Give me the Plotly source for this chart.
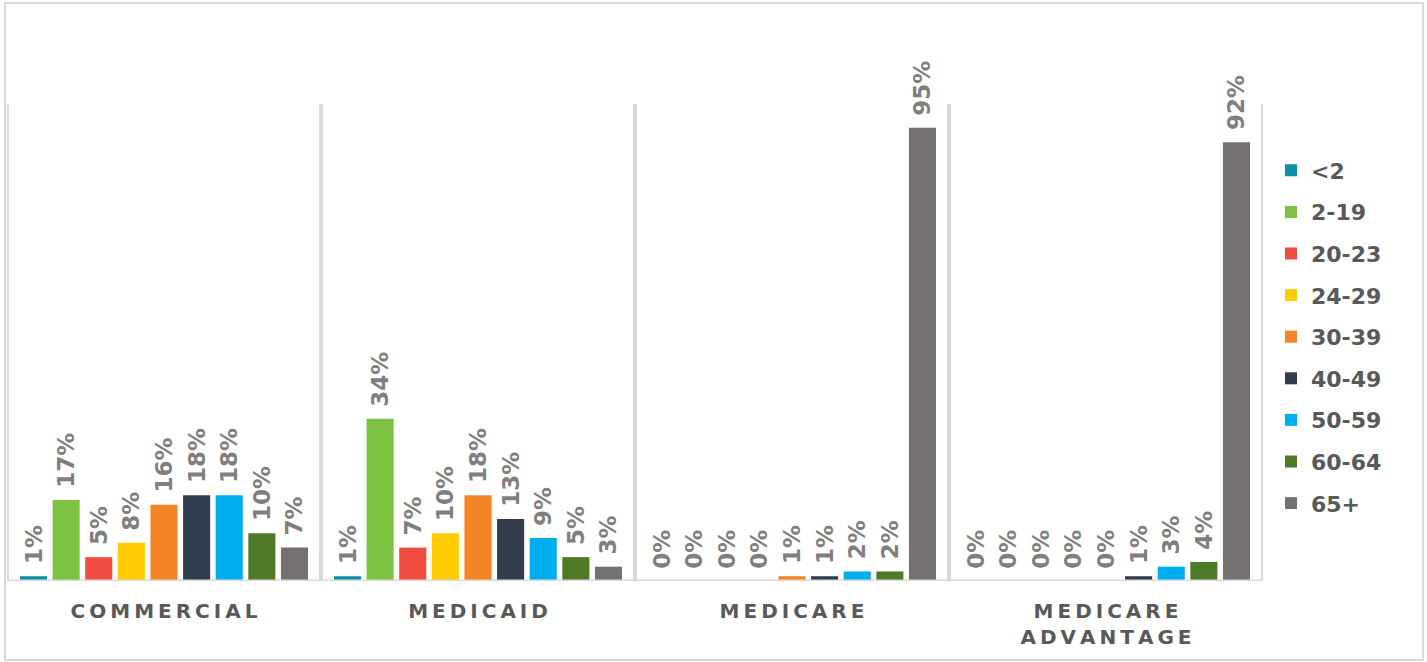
import plotly.graph_objects as go

# Payer categories (x axis) and age bands (series)
categories = ["COMMERCIAL", "MEDICAID", "MEDICARE", "MEDICARE ADVANTAGE"]
tick_labels = ["COMMERCIAL", "MEDICAID", "MEDICARE", "MEDICARE<br>ADVANTAGE"]
age_bands = ["<2", "2-19", "20-23", "24-29", "30-39", "40-49", "50-59", "60-64", "65+"]

# Share of members (%) in each age band, per payer
values = {
    "<2":    [1, 1, 0, 0],
    "2-19":  [17, 34, 0, 0],
    "20-23": [5, 7, 0, 0],
    "24-29": [8, 10, 0, 0],
    "30-39": [16, 18, 1, 0],
    "40-49": [18, 13, 1, 1],
    "50-59": [18, 9, 2, 3],
    "60-64": [10, 5, 2, 4],
    "65+":   [7, 3, 95, 92],
}

colors = ["#0E8FA3", "#7DC242", "#F04C3F", "#FFCB05", "#F58426",
          "#323C4F", "#00AEEF", "#4E7A27", "#767171"]

FONT = "DejaVu Sans"
GRID = "#D9D9D9"


def spaced(label):
    # widen letter spacing with thin spaces, keeping line breaks intact
    return "<br>".join("\u2009".join(part) for part in label.split("<br>"))


fig = go.Figure()
for band, color in zip(age_bands, colors):
    vals = values[band]
    fig.add_trace(go.Bar(
        name=band,
        x=categories,
        y=vals,
        marker=dict(color=color, line=dict(width=0)),
        # leading thin spaces lift the rotated label a little off the bar
        text=[f"\u2009\u2009{v}%" for v in vals],
        textposition="outside",
        textangle=-90,
        constraintext="none",
        cliponaxis=False,
        textfont=dict(family=FONT, size=23, color="#7F7F7F", weight="bold"),
        legendgroup=band,
    ))

# layout geometry (pixels)
W, H = 1427, 662
ml, mr, mt, mb = 7, 164, 30, 81
plot_w = W - ml - mr
plot_h = H - mt - mb
px_per_pct = 4.77
y_top = plot_h / px_per_pct


def px_to_paper_x(px):
    return (px - ml) / plot_w


def px_to_paper_y(py):
    return (H - mb - py) / plot_h


shapes = []
# vertical separators between payer groups
for xb in [-0.5, 0.5, 1.5, 2.5, 3.5]:
    shapes.append(dict(type="line", xref="x", yref="y", x0=xb, x1=xb, y0=0, y1=100,
                       line=dict(color=GRID, width=4), layer="below"))
# baseline
shapes.append(dict(type="line", xref="x", yref="y", x0=-0.5, x1=3.5, y0=0, y1=0,
                   line=dict(color=GRID, width=3), layer="above"))
# outer frame
shapes.append(dict(type="rect", xref="paper", yref="paper",
                   x0=px_to_paper_x(5), x1=px_to_paper_x(1423),
                   y0=px_to_paper_y(660), y1=px_to_paper_y(3),
                   line=dict(color=GRID, width=2), layer="below"))

fig.update_layout(
    width=W, height=H,
    margin=dict(l=ml, r=mr, t=mt, b=mb),
    paper_bgcolor="white", plot_bgcolor="white",
    barmode="group", bargap=0.065, bargroupgap=0.17,
    shapes=shapes,
    showlegend=True,
    legend=dict(
        x=px_to_paper_x(1271), xanchor="left",
        y=px_to_paper_y(337), yanchor="middle",
        font=dict(family=FONT, size=22, color="#595959", weight="bold"),
        tracegroupgap=10, itemwidth=30,
        bgcolor="rgba(0,0,0,0)",
    ),
    xaxis=dict(
        type="category",
        tickmode="array", tickvals=categories,
        ticktext=[spaced(t) for t in tick_labels],
        tickfont=dict(family=FONT, size=20, color="#595959", weight="bold"),
        showgrid=False, zeroline=False, showline=False, ticks="",
        ticklabelstandoff=16,
        range=[-0.5, 3.5],
    ),
    yaxis=dict(
        range=[0, y_top], visible=False, showgrid=False, zeroline=False,
    ),
)

fig.write_html("out.html")
